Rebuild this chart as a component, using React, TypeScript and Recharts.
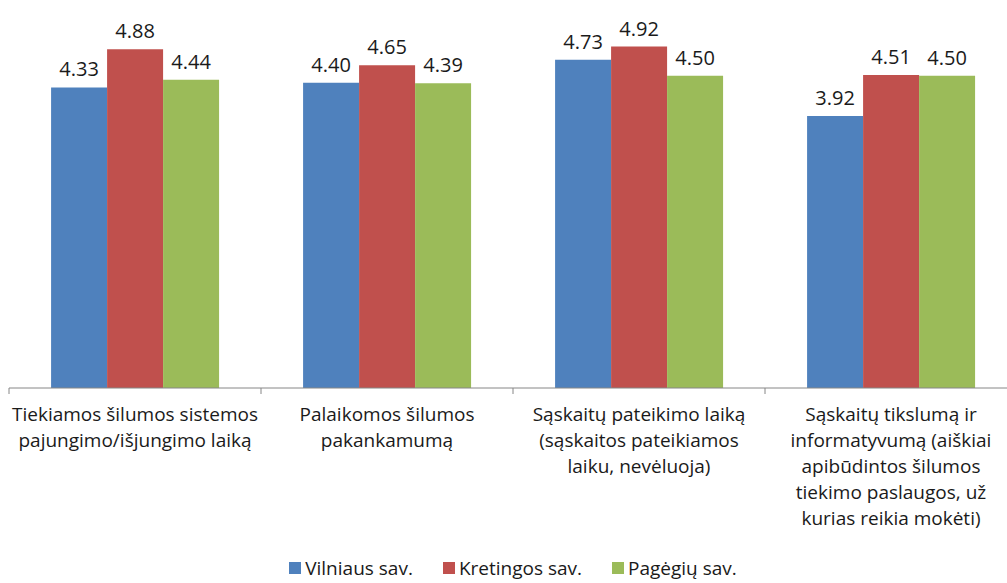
import { BarChart, Bar, XAxis, YAxis, LabelList } from 'recharts'

const categories = [
  'Tiekiamos šilumos sistemos\npajungimo/išjungimo laiką',
  'Palaikomos šilumos\npakankamumą',
  'Sąskaitų pateikimo laiką\n(sąskaitos pateikiamos\nlaiku, nevėluoja)',
  'Sąskaitų tikslumą ir\ninformatyvumą (aiškiai\napibūdintos šilumos\ntiekimo paslaugos, už\nkurias reikia mokėti)',
]
const vilniaus = [4.33, 4.4, 4.73, 3.92]
const kretingos = [4.88, 4.65, 4.92, 4.51]
const pagegiu = [4.44, 4.39, 4.5, 4.5]

const seriesNames = ['Vilniaus sav.', 'Kretingos sav.', 'Pagėgių sav.']
const seriesColors = ['#4F81BD', '#C0504D', '#9BBB59']

const FONT = '"Open Sans", "Liberation Sans", sans-serif'
const CHART_W = 1020
const CHART_H = 583
const AXIS_H = 30
const MARGIN = { top: 41, right: 3, bottom: 195 - AXIS_H, left: 9 }
const HALF_BAND = (CHART_W - MARGIN.left - MARGIN.right) / categories.length / 2

const data = categories.map((name, i) => ({
  name,
  v: vilniaus[i],
  k: kretingos[i],
  p: pagegiu[i],
}))

function CategoryTick(props: any) {
  const { x, y, payload, index } = props
  const lines = String(payload.value).split('\n')
  return (
    <g>
      <line x1={x - HALF_BAND} y1={y - 10} x2={x - HALF_BAND} y2={y - 4} stroke="#868686" />
      {index === categories.length - 1 && (
        <line x1={x + HALF_BAND} y1={y - 10} x2={x + HALF_BAND} y2={y - 4} stroke="#868686" />
      )}
      <text textAnchor="middle" fontSize={19} fontFamily={FONT} fill="#1a1a1a">
        {lines.map((l, i) => (
          <tspan key={i} x={x} y={y + 23 + i * 26}>
            {l}
          </tspan>
        ))}
      </text>
    </g>
  )
}

const fmt = (v: any) => Number(v).toFixed(2)

export default function App() {
  const keys = ['v', 'k', 'p']
  return (
    <div style={{ position: 'absolute', left: 0, top: 0, width: CHART_W, height: CHART_H, background: '#fff', overflow: 'hidden' }}>
      <BarChart width={CHART_W} height={CHART_H} data={data} margin={MARGIN} barCategoryGap="16.7%" barGap={0}>
        <XAxis
          dataKey="name"
          interval={0}
          height={AXIS_H}
          tickLine={false}
          axisLine={{ stroke: '#868686' }}
          tick={<CategoryTick />}
          tickSize={0}
          tickMargin={10}
        />
        <YAxis hide domain={[0, 5]} />
        {keys.map((key, i) => (
          <Bar key={key} dataKey={key} name={seriesNames[i]} fill={seriesColors[i]} isAnimationActive={false}>
            <LabelList
              dataKey={key}
              position="top"
              offset={11}
              formatter={fmt}
              style={{ fontSize: 20, fontFamily: FONT, fill: '#1a1a1a' }}
            />
          </Bar>
        ))}
      </BarChart>
      <div
        style={{
          position: 'absolute',
          top: 557,
          left: 0,
          width: 1026,
          display: 'flex',
          justifyContent: 'center',
          gap: 30,
          fontFamily: FONT,
          fontSize: 19,
          color: '#1a1a1a',
          lineHeight: '22px',
        }}
      >
        {seriesNames.map((n, i) => (
          <div key={n} style={{ display: 'flex', alignItems: 'center' }}>
            <span style={{ display: 'inline-block', width: 12, height: 12, background: seriesColors[i], marginRight: 4 }} />
            {n}
          </div>
        ))}
      </div>
    </div>
  )
}
